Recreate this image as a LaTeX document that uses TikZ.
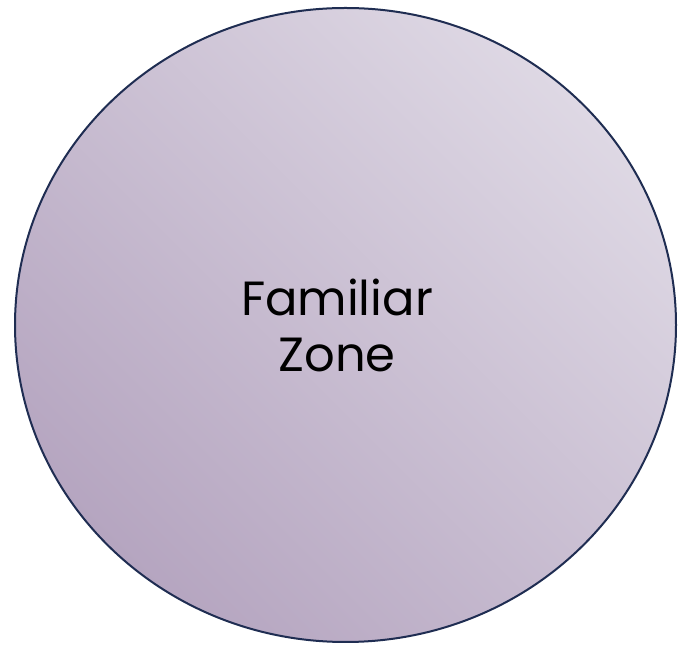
\documentclass[tikz,border=0pt]{standalone}
\usepackage{fontspec}
\setmainfont{Poppins}
\definecolor{ringline}{HTML}{1F2D52}
\definecolor{shadelight}{HTML}{DED8E4}
\definecolor{shadedark}{HTML}{B5A5C0}
\begin{document}
\begin{tikzpicture}[x=1pt,y=1pt,
  zone/.style={ellipse, draw=ringline, line width=2pt, top color=shadelight, bottom color=shadedark, shading angle=-45},
  zonelabel/.style={font=\fontsize{48}{56}\selectfont, align=center, text=black}]
\useasboundingbox (0,0) rectangle (678,645);
\fill[white] (0,0) rectangle (678,645);
\shade[draw=ringline, line width=2pt, top color=shadelight, bottom color=shadedark, shading angle=-45] (345.5,320) ellipse [x radius=330.5, y radius=317];
\node[zonelabel] (label) at (337,320) {Familiar\\Zone};
\end{tikzpicture}
\end{document}
